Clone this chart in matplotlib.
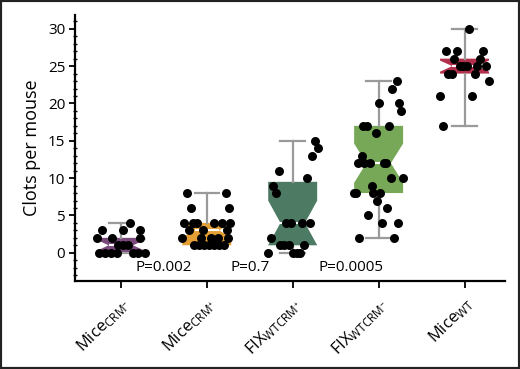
import numpy as np
import matplotlib
matplotlib.use("Agg")
import matplotlib.pyplot as plt
from matplotlib.patches import Rectangle
from matplotlib.ticker import MultipleLocator

plt.rcParams['font.family'] = ['Open Sans', 'DejaVu Sans']
plt.rcParams['mathtext.fontset'] = 'custom'
plt.rcParams['mathtext.rm'] = 'Open Sans'
plt.rcParams['mathtext.it'] = 'Open Sans'
plt.rcParams['mathtext.bf'] = 'Open Sans'

# ---- data ----
labels = [r"Mice$_{\mathrm{CRM}^{-}}$", r"Mice$_{\mathrm{CRM}^{+}}$",
          r"FIX$_{\mathrm{WTCRM}^{+}}$", r"FIX$_{\mathrm{WTCRM}^{-}}$",
          r"Mice$_{\mathrm{WT}}$"]
colors = ["#7a4a7c", "#e49f35", "#4d7a62", "#77a857", "#b2304b"]

g1_vals = [4, 3, 3, 3, 2, 2, 2, 1, 1, 1, 0, 0, 0, 0, 0, 0, 0]
g1_jit = [9, -19, 2, 19, -24, -9, 19, -3, 2, 7, -22, -16, -10, -4, 12, 17, 24]
g2_vals = [8, 8, 6, 6, 4, 4, 4, 4, 4, 4, 3, 3, 3, 2, 2, 2, 2, 2,
           1, 1, 1, 1, 1, 1, 1]
g2_jit = [-20, 19, -16, 22, -23, -14, -10, 7, 15, 23, -18, -4, 20,
          -25, -6, 4, 11, 21, -13, -8, -3, 2, 7, 12, 17]
g3_vals = [15, 14, 13, 11, 10, 9, 8, 4, 4, 4, 4, 2, 1, 1, 1, 1, 0, 0, 0, 0]
g3_jit = [22, 25, 19, -14, 14, -20, -17, -7, -2, 9, 17, -22,
          -13, -9, -4, 11, -25, 0, 4, 7]
g4_vals = [23, 22, 20, 20, 19, 17, 17, 17, 16, 13, 12, 12, 12, 12, 12,
           10, 10, 9, 8, 8, 8, 8, 7, 6, 5, 4, 4, 2, 2]
g4_jit = [18, 13, 0, 20, 22, -16, -12, 10, -3, -17, -21, -15, -9, 5, 7,
          12, 24, -7, -25, -23, -6, 1, -2, 8, -11, 3, 19, -20, 15]
g5_vals = [30, 27, 27, 27, 26, 26, 25, 25, 25, 25, 25, 24, 24, 24, 23, 21, 21, 17]
g5_jit = [4, -19, -8, 18, -11, 15, -5, -2, 2, 12, 21, -17, -13, 10, 24, -25, 7, -22]

# box statistics
q1 = [0, 1, 1, 8, 24]
med = [1, 3, 4, 12, 25]
q3 = [2, 4, 9.5, 17, 26]
whislo = [0, 1, 0, 2, 17]
whishi = [4, 8, 15, 23, 30]

p_labels = ["P=0.002", "P=0.7", "P=0.0005"]
p_x = [1.5, 2.5, 3.68]

groups = [(g1_vals, g1_jit), (g2_vals, g2_jit), (g3_vals, g3_jit),
          (g4_vals, g4_jit), (g5_vals, g5_jit)]

fig = plt.figure(figsize=(5.2, 3.69), dpi=100)
ax = fig.add_axes([0.144, 0.2385, 0.827, 0.7205])

stats = []
for i, (vals, _) in enumerate(groups):
    n = len(vals)
    iqr = q3[i] - q1[i]
    half = 1.57 * iqr / np.sqrt(n)
    stats.append(dict(med=med[i], q1=q1[i], q3=q3[i],
                      whislo=whislo[i], whishi=whishi[i],
                      cilo=max(q1[i], med[i] - half),
                      cihi=min(q3[i], med[i] + half),
                      fliers=[], label=labels[i]))

pos = np.arange(1, 6)
bp = ax.bxp(stats, positions=pos, widths=0.57, shownotches=True,
            patch_artist=True, showfliers=False,
            whiskerprops=dict(color="#9a9a9a", lw=1.6),
            capprops=dict(color="#9a9a9a", lw=1.6),
            medianprops=dict(color="white", lw=1.5),
            boxprops=dict(lw=0))
for patch, c in zip(bp['boxes'], colors):
    patch.set_facecolor(c)
    patch.set_edgecolor(c)

for i, (vals, jit) in enumerate(groups):
    x = pos[i] + np.array(jit) / 86.0
    ax.scatter(x, vals, s=42, color="black", zorder=5, linewidths=0)

for t, xx in zip(p_labels, p_x):
    ax.text(xx, -2.0, t, ha="center", va="center", fontsize=11)

ax.set_xlim(0.465, 5.47)
ax.set_ylim(-3.78, 31.83)
ax.set_xticks(pos)
ax.set_xticklabels(labels, rotation=45, ha="right", rotation_mode="anchor",
                   fontsize=12)
ax.set_yticks([0, 5, 10, 15, 20, 25, 30])
ax.yaxis.set_minor_locator(MultipleLocator(1))
ax.tick_params(axis="y", which="major", direction="out", length=4, width=1.3,
               labelsize=11, pad=3)
ax.tick_params(axis="y", which="minor", direction="inout", length=3, width=1.0)
ax.tick_params(axis="x", which="major", direction="out", length=5, width=1.3,
               pad=5)
ax.set_ylabel("Clots per mouse", fontsize=13, labelpad=5)

for s in ["top", "right"]:
    ax.spines[s].set_visible(False)
ax.spines["left"].set_linewidth(1.6)
ax.spines["bottom"].set_linewidth(1.6)

fig.patches.append(Rectangle((0, 0), 1, 1, transform=fig.transFigure,
                             fill=False, edgecolor="#222222", lw=3,
                             zorder=10))

fig.savefig("out.png", dpi=100)
